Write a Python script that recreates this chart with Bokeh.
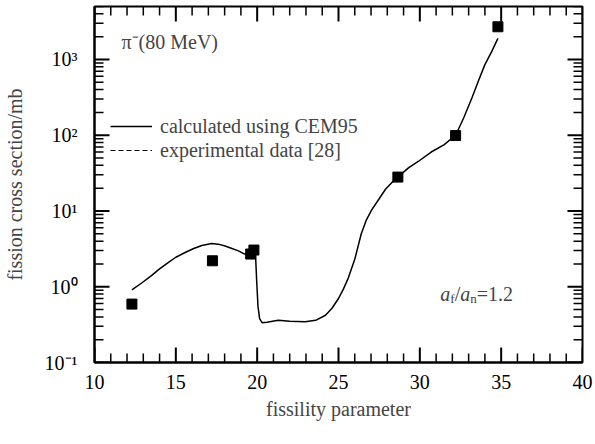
import math
from bokeh.plotting import figure
from bokeh.models import (SingleIntervalTicker, LogTicker, CustomJSTickFormatter,
                          Legend, LegendItem, Label, Range1d, ColumnDataSource)
from bokeh.embed import file_html
from bokeh.resources import INLINE

# ---- data ----
exp_x = [12.3, 17.25, 19.6, 19.8, 28.65, 32.2, 34.8]
exp_y = [0.59, 2.2, 2.7, 3.05, 28.0, 99.0, 2700.0]

calc_x = [12.3, 12.9, 13.5, 14.0, 14.55, 15.0, 15.57, 16.1, 16.6, 17.2, 17.6, 18.03,
          18.45, 18.85, 19.2, 19.47, 19.7, 19.85, 19.9, 19.97, 20.05, 20.15, 20.3,
          20.6, 21.3, 22.0, 22.95, 23.6, 24.2, 24.6, 25.0, 25.3, 25.6, 26.0, 26.4,
          26.7, 27.05, 27.5, 27.9, 28.3, 28.65, 29.3, 29.9, 30.7, 31.5, 32.2, 32.7,
          33.2, 33.6, 34.0, 34.4, 34.8]
calc_y = [0.91, 1.12, 1.40, 1.72, 2.1, 2.45, 2.83, 3.2, 3.5, 3.71, 3.65, 3.45,
          3.2, 2.97, 2.72, 2.61, 2.75, 2.95, 2.6, 1.2, 0.55, 0.38, 0.335,
          0.34, 0.36, 0.35, 0.346, 0.36, 0.42, 0.52, 0.70, 0.93, 1.3, 2.3, 5.0,
          7.5, 10.4, 14.5, 19.5, 24.0, 28.0, 37.0, 45.0, 60.0, 75.0, 100.0, 170.0,
          310.0, 520.0, 855.0, 1250.0, 1900.0]

x_label = "fissility parameter"
y_label = "fission cross section/mb"
legend_labels = ["calculated using CEM95", "experimental data [28]"]
title_text = "π⁻(80 MeV)"

X_MIN, X_MAX, Y_MIN, Y_MAX = 10, 40, 0.1, 5000
x_major_ticks = [10, 15, 20, 25, 30, 35, 40]
x_minor_ticks = [v for v in range(11, 40) if v % 5 != 0]
y_major_ticks = [0.1, 1, 10, 100, 1000]
y_minor_ticks = [m * d for d in y_major_ticks for m in range(2, 10) if m * d <= Y_MAX]

FONT = "Liberation Serif"
FW, FH = 488, 356

p = figure(frame_width=FW, frame_height=FH, x_range=Range1d(X_MIN, X_MAX),
           y_range=Range1d(Y_MIN, Y_MAX),
           y_axis_type="log", output_backend="svg", toolbar_location=None,
           min_border_left=88, min_border_right=11, min_border_top=6, min_border_bottom=60)
p.xgrid.visible = False
p.ygrid.visible = False
p.outline_line_color = "black"
p.outline_line_width = 2
p.background_fill_color = None
p.border_fill_color = "white"

sup_code = """
const e = Math.round(Math.log10(tick));
const sup = {'-':'\u207b','0':'\u2070','1':'\u00b9','2':'\u00b2','3':'\u00b3','4':'\u2074','5':'\u2075','6':'\u2076','7':'\u2077','8':'\u2078','9':'\u2079'};
return '10' + String(e).split('').map(c => sup[c]).join('');
"""

def style_axis(ax):
    ax.axis_line_width = 2
    ax.major_tick_in = 0
    ax.major_tick_out = 0
    ax.minor_tick_in = 0
    ax.minor_tick_out = 0
    ax.major_label_text_font = FONT
    ax.major_label_text_font_size = "20px"
    ax.major_label_text_color = "black"
    ax.axis_label_text_font = FONT
    ax.axis_label_text_font_size = "20px"
    ax.axis_label_text_font_style = "normal"

xa = p.xaxis[0]
xa.ticker = SingleIntervalTicker(interval=5, num_minor_ticks=5)
xa.axis_label = x_label
style_axis(xa)
xa.major_label_standoff = 12
xa.axis_label_standoff = 6

ya = p.yaxis[0]
ya.ticker = LogTicker(mantissas=[1], desired_num_ticks=6, num_minor_ticks=10)
ya.formatter = CustomJSTickFormatter(code=sup_code)
ya.axis_label = y_label
style_axis(ya)
ya.major_label_standoff = 17
ya.axis_label_standoff = 16

# inward tick marks on all four sides (lengths in pixels converted to data units)
px_per_x = FW / (X_MAX - X_MIN)
px_per_dec = FH / math.log10(Y_MAX / Y_MIN)

def hticks(ticks, ln, lw):
    dy = 10 ** (ln / px_per_dec)
    n = len(ticks)
    p.segment(x0=list(ticks), y0=[Y_MIN] * n, x1=list(ticks), y1=[Y_MIN * dy] * n,
              line_color="black", line_width=lw)
    p.segment(x0=list(ticks), y0=[Y_MAX] * n, x1=list(ticks), y1=[Y_MAX / dy] * n,
              line_color="black", line_width=lw)

def vticks(ticks, ln, lw):
    dx = ln / px_per_x
    n = len(ticks)
    p.segment(x0=[X_MIN] * n, y0=list(ticks), x1=[X_MIN + dx] * n, y1=list(ticks),
              line_color="black", line_width=lw)
    p.segment(x0=[X_MAX] * n, y0=list(ticks), x1=[X_MAX - dx] * n, y1=list(ticks),
              line_color="black", line_width=lw)

hticks(x_major_ticks, 15, 2)
hticks(x_minor_ticks, 9, 1.5)
vticks(y_major_ticks, 15, 2)
vticks(y_minor_ticks, 9, 1.5)

calc_r = p.line(calc_x, calc_y, line_color="black", line_width=1.5)
exp_src = ColumnDataSource(dict(x=exp_x, y=exp_y))
dash_r = p.line("x", "y", source=exp_src, line_color="black", line_width=1, line_dash="5 3",
                visible=False)
p.scatter("x", "y", source=exp_src, marker="square", size=10, fill_color="black", line_color="black")

legend = Legend(items=[LegendItem(label=legend_labels[0], renderers=[calc_r]),
                       LegendItem(label=legend_labels[1], renderers=[dash_r])],
                location=(16, 200), padding=0, margin=0, spacing=0,
                glyph_width=42, glyph_height=24, label_height=24, label_standoff=8,
                label_text_font=FONT, label_text_font_size="20px",
                border_line_color=None, background_fill_alpha=0)
p.add_layout(legend, "center")

p.add_layout(Label(x=11.66, y=1711, text=title_text, text_font=FONT, text_font_size="20px",
                   text_baseline="middle"))

ratio_x, ratio_y = 31.25, 0.81
pieces = [("a", 0, 0, "italic", "20px"), ("f", 10, -5, "normal", "13px"),
          ("/", 14.5, 0, "normal", "20px"), ("a", 20, 0, "italic", "20px"),
          ("n", 30, -5, "normal", "13px"), ("=1.2", 36.6, 0, "normal", "20px")]
for t, dx, dy, st, fs in pieces:
    p.add_layout(Label(x=ratio_x, y=ratio_y, x_offset=dx, y_offset=dy, text=t,
                       text_font=FONT, text_font_size=fs, text_font_style=st,
                       text_baseline="alphabetic"))

open("out.html", "w").write(file_html(p, INLINE))
